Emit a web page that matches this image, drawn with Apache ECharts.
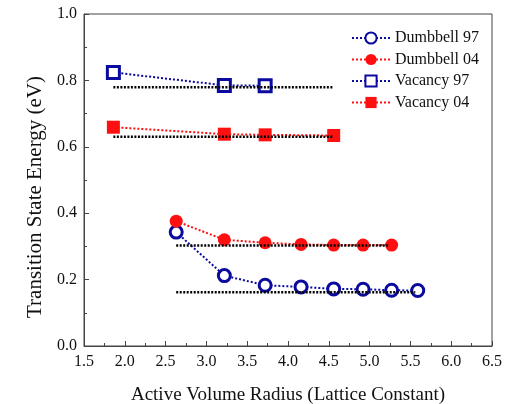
<!DOCTYPE html>
<html>
<head>
<meta charset="utf-8">
<script src="https://cdn.jsdelivr.net/npm/echarts@6/dist/echarts.min.js"></script>
<style>
  html, body { margin: 0; padding: 0; background: #fff; }
  #chart { width: 512px; height: 404px; }
</style>
</head>
<body>
<div id="chart"></div>
<script>
// Transition state energies versus active volume radius
const dumbbell97X = [2.63, 3.22, 3.72, 4.16, 4.56, 4.92, 5.27, 5.59];
const dumbbell97Y = [0.343, 0.212, 0.183, 0.178, 0.172, 0.171, 0.168, 0.167];
const dumbbell04X = [2.63, 3.22, 3.72, 4.16, 4.56, 4.92, 5.27];
const dumbbell04Y = [0.376, 0.320, 0.311, 0.306, 0.304, 0.304, 0.304];
const vacancy97X = [1.86, 3.22, 3.72];
const vacancy97Y = [0.824, 0.785, 0.784];
const vacancy04X = [1.86, 3.22, 3.72, 4.56];
const vacancy04Y = [0.659, 0.638, 0.636, 0.634];

// Converged reference levels: [y, xStart, xEnd]
const refLevels = [
  [0.779, 1.86, 4.56],
  [0.630, 1.86, 4.56],
  [0.303, 2.63, 5.24],
  [0.162, 2.63, 5.56]
];

const xTicks = ['1.5', '2.0', '2.5', '3.0', '3.5', '4.0', '4.5', '5.0', '5.5', '6.0', '6.5'];

const BLUE = '#0a0a9e';
const RED = '#ff1010';
const FONT = '"Liberation Serif", "Times New Roman", serif';

const zip = (xs, ys) => xs.map((x, i) => [x, ys[i]]);

function dataSeries(name, xs, ys, color, symbol, filled) {
  return {
    name: name,
    type: 'line',
    data: zip(xs, ys),
    symbol: symbol,
    symbolSize: filled ? 13 : 12,
    showAllSymbol: true,
    z: 3,
    lineStyle: { color: color, width: 2, type: [2, 2] },
    itemStyle: {
      color: filled ? color : '#fff',
      borderColor: color,
      borderWidth: filled ? 0 : 3
    },
    emphasis: { disabled: true },
    animation: false
  };
}

const series = [
  dataSeries('Dumbbell 97', dumbbell97X, dumbbell97Y, BLUE, 'circle', false),
  dataSeries('Dumbbell 04', dumbbell04X, dumbbell04Y, RED, 'circle', true),
  dataSeries('Vacancy 97', vacancy97X, vacancy97Y, BLUE, 'rect', false),
  dataSeries('Vacancy 04', vacancy04X, vacancy04Y, RED, 'rect', true)
];

refLevels.forEach((lvl, i) => {
  series.push({
    name: 'ref' + i,
    type: 'line',
    data: [[lvl[1], lvl[0]], [lvl[2], lvl[0]]],
    symbol: 'none',
    z: 5,
    lineStyle: { color: '#000', width: 2.5, type: [2, 1.5] },
    emphasis: { disabled: true },
    animation: false
  });
});

const chart = echarts.init(document.getElementById('chart'));
chart.setOption({
  backgroundColor: '#fff',
  animation: false,
  grid: {
    left: 84, right: 20, top: 14, bottom: 58,
    outerBoundsMode: 'none',
    containLabel: false,
    show: true, borderColor: '#444', borderWidth: 1, backgroundColor: 'transparent'
  },
  legend: {
    data: ['Dumbbell 97', 'Dumbbell 04', 'Vacancy 97', 'Vacancy 04'],
    orient: 'vertical',
    right: 28,
    top: 25,
    itemWidth: 38,
    itemHeight: 14,
    itemGap: 5.5,
    textStyle: { fontFamily: FONT, fontSize: 16, color: '#111', lineHeight: 14 },
    selectedMode: false
  },
  xAxis: {
    type: 'value',
    min: 1.5, max: 6.5, interval: 0.5,
    name: 'Active Volume Radius (Lattice Constant)',
    nameLocation: 'middle',
    nameGap: 40,
    nameTextStyle: { fontFamily: FONT, fontSize: 19, color: '#111' },
    axisLine: { show: true, lineStyle: { color: '#444', width: 1 } },
    axisTick: { show: true, inside: true, length: 5, lineStyle: { color: '#444' } },
    minorTick: { show: true, splitNumber: 2, length: 3, lineStyle: { color: '#444' } },
    splitLine: { show: false },
    axisLabel: {
      fontFamily: FONT, fontSize: 16, color: '#111', margin: 8,
      formatter: (v) => {
        const i = Math.round((v - 1.5) / 0.5);
        return xTicks[i] !== undefined ? xTicks[i] : '';
      }
    }
  },
  yAxis: {
    type: 'value',
    min: 0, max: 1.0, interval: 0.2,
    name: 'Transition State Energy (eV)',
    nameLocation: 'middle',
    nameGap: 38,
    nameTextStyle: { fontFamily: FONT, fontSize: 21, color: '#111', padding: [0, 34, 0, 0] },
    axisLine: { show: true, lineStyle: { color: '#444', width: 1 } },
    axisTick: { show: true, inside: true, length: 5, lineStyle: { color: '#444' } },
    minorTick: { show: true, splitNumber: 2, length: 3, lineStyle: { color: '#444' } },
    splitLine: { show: false },
    axisLabel: {
      fontFamily: FONT, fontSize: 16, color: '#111', margin: 7,
      formatter: (v) => v.toFixed(1)
    }
  },
  series: series
});
</script>
</body>
</html>
